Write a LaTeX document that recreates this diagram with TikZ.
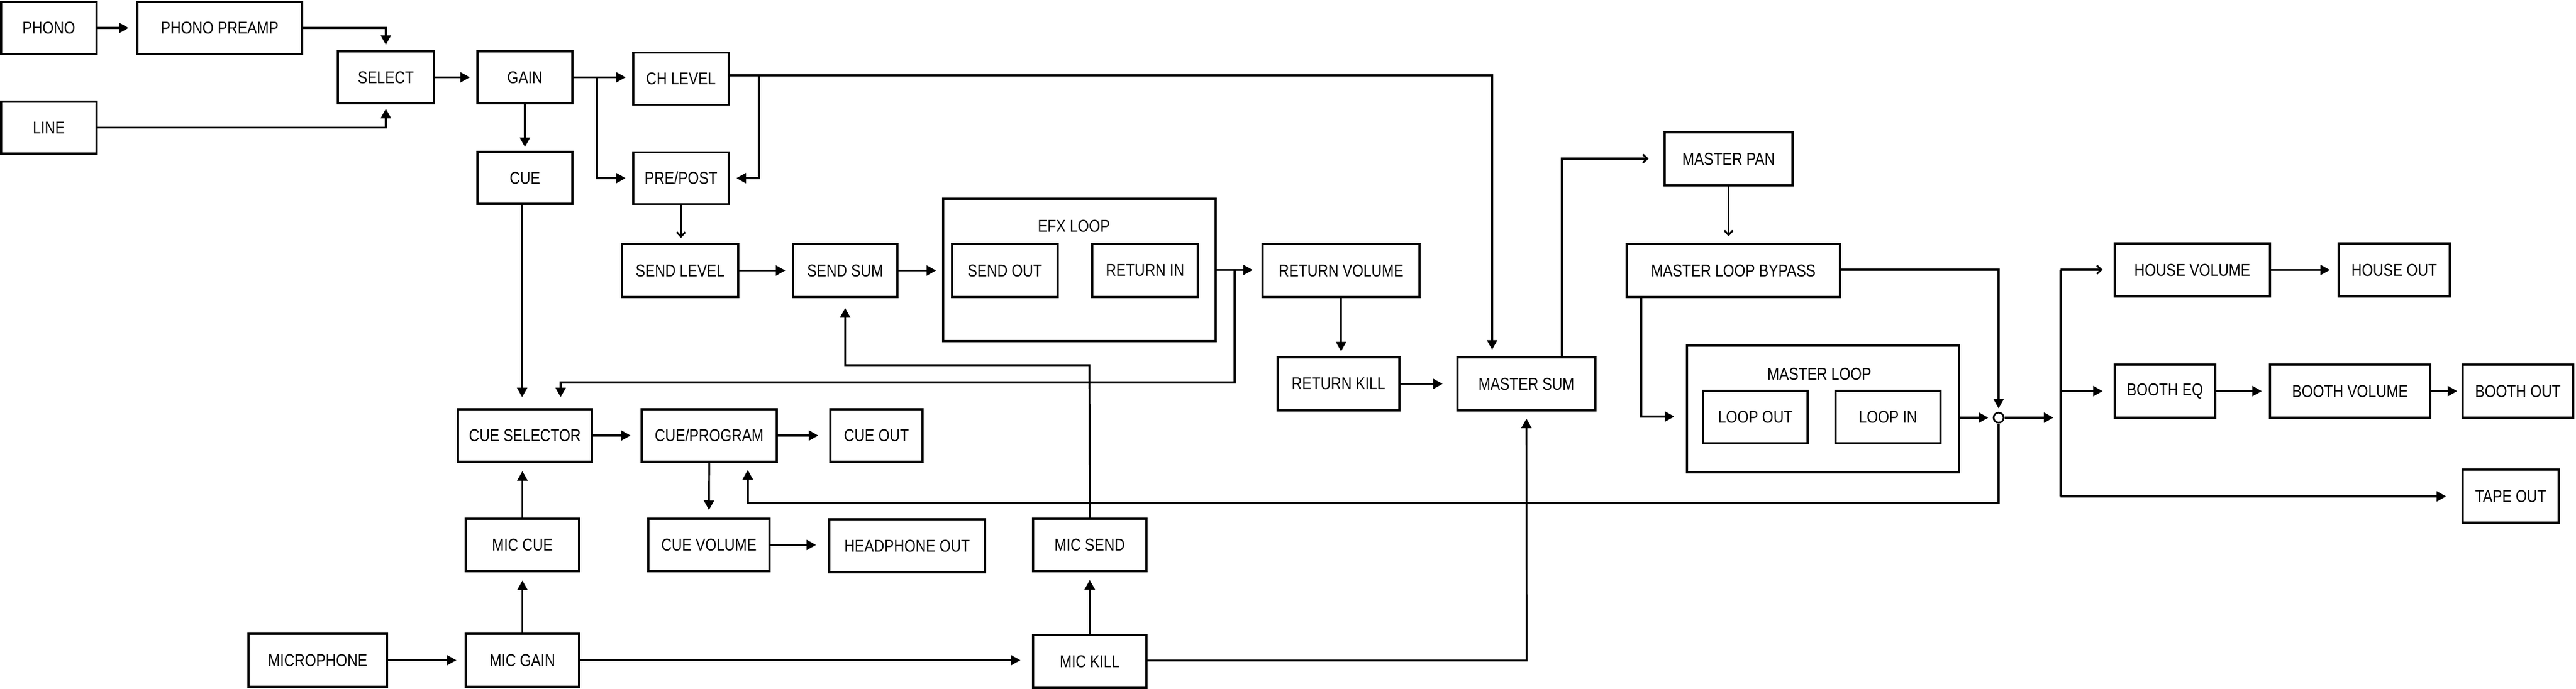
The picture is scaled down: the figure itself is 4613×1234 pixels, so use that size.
\documentclass[tikz,border=0pt]{standalone}
\usepackage{fontspec}
\setmainfont{Liberation Sans}[FakeStretch=0.84]
\usetikzlibrary{arrows.meta}
\begin{document}
\begin{tikzpicture}[x=1pt,y=-1pt,
  box/.style={draw, line width=3.5pt, inner sep=0pt, font=\fontsize{30.7}{36}\selectfont},
  lbl/.style={inner sep=0pt, font=\fontsize{30.7}{36}\selectfont},
  wire/.style={line width=3.2pt},
  arr/.style={line width=3.2pt, -{Triangle[length=17pt,width=18pt]}, shorten >=#1},
  arr/.default=12pt,
  oarr/.style={line width=3.2pt, -{Straight Barb[length=8pt,width=15pt]}, shorten >=#1},
  oarr/.default=12pt]
\useasboundingbox (0,0) rectangle (4613,1234);
% boxes
\node[box, minimum width=171pt, minimum height=93pt] (phono) at (87.5,50) {PHONO};
\node[box, minimum width=295pt, minimum height=93pt] (preamp) at (393.5,50) {PHONO PREAMP};
\node[box, minimum width=172pt, minimum height=93pt] (select) at (691,138.5) {SELECT};
\node[box, minimum width=171pt, minimum height=93pt] (line) at (87.5,228.5) {LINE};
\node[box, minimum width=170pt, minimum height=93pt] (gain) at (940,138.5) {GAIN};
\node[box, minimum width=171pt, minimum height=93pt] (chlevel) at (1219.5,141) {CH LEVEL};
\node[box, minimum width=170pt, minimum height=93pt] (cue) at (940,318.5) {CUE};
\node[box, minimum width=171pt, minimum height=93pt] (prepost) at (1219.5,319) {PRE/POST};
\node[box, minimum width=208pt, minimum height=95pt] (sendlevel) at (1218,484.5) {SEND LEVEL};
\node[box, minimum width=187pt, minimum height=95pt] (sendsum) at (1513.5,484.5) {SEND SUM};
\node[box, minimum width=488pt, minimum height=255pt] (efx) at (1933,483.5) {};
\node[lbl] (efxlbl) at (1923,405) {EFX LOOP};
\node[box, minimum width=189pt, minimum height=95pt] (sendout) at (1799.5,484.5) {SEND OUT};
\node[box, minimum width=189pt, minimum height=95pt] (returnin) at (2050.5,484.5) {RETURN IN};
\node[box, minimum width=281pt, minimum height=95pt] (returnvol) at (2401.5,484.5) {RETURN VOLUME};
\node[box, minimum width=218pt, minimum height=95pt] (returnkill) at (2397,687.5) {RETURN KILL};
\node[box, minimum width=247pt, minimum height=95pt] (mastersum) at (2733.5,687.5) {MASTER SUM};
\node[box, minimum width=229pt, minimum height=95pt] (masterpan) at (3095.5,284.5) {MASTER PAN};
\node[box, minimum width=382pt, minimum height=95pt] (mlb) at (3104,484.5) {MASTER LOOP BYPASS};
\node[box, minimum width=487pt, minimum height=227pt] (mloop) at (3264.5,732.5) {};
\node[lbl] (mlooplbl) at (3258,670) {MASTER LOOP};
\node[box, minimum width=187pt, minimum height=94pt] (loopout) at (3143.5,747) {LOOP OUT};
\node[box, minimum width=188pt, minimum height=94pt] (loopin) at (3381,747) {LOOP IN};
\node[box, minimum width=240pt, minimum height=94pt] (cuesel) at (940,780) {CUE SELECTOR};
\node[box, minimum width=242pt, minimum height=94pt] (cueprog) at (1270,780) {CUE/PROGRAM};
\node[box, minimum width=165pt, minimum height=94pt] (cueout) at (1569.5,780) {CUE OUT};
\node[box, minimum width=203pt, minimum height=94pt] (miccue) at (935.5,976) {MIC CUE};
\node[box, minimum width=217pt, minimum height=94pt] (cuevol) at (1269.5,976) {CUE VOLUME};
\node[box, minimum width=279pt, minimum height=95pt] (headout) at (1624.5,977.5) {HEADPHONE OUT};
\node[box, minimum width=203pt, minimum height=94pt] (micsend) at (1951.5,976) {MIC SEND};
\node[box, minimum width=248pt, minimum height=95pt] (microphone) at (569,1182.5) {MICROPHONE};
\node[box, minimum width=203pt, minimum height=95pt] (micgain) at (935.5,1182.5) {MIC GAIN};
\node[box, minimum width=203pt, minimum height=95pt] (mickill) at (1951.5,1184.5) {MIC KILL};
\node[box, minimum width=278pt, minimum height=95pt] (housevol) at (3926,483.5) {HOUSE VOLUME};
\node[box, minimum width=199pt, minimum height=95pt] (houseout) at (4287.5,483.5) {HOUSE OUT};
\node[box, minimum width=180pt, minimum height=95pt] (boothEQ) at (3877,700.5) {BOOTH EQ};
\node[box, minimum width=287pt, minimum height=95pt] (boothvol) at (4208.5,700.5) {BOOTH VOLUME};
\node[box, minimum width=198pt, minimum height=95pt] (boothout) at (4509,700.5) {BOOTH OUT};
\node[box, minimum width=172pt, minimum height=95pt] (tapeout) at (4496,888.5) {TAPE OUT};
\node[circle, draw, line width=3pt, minimum size=18pt, inner sep=0pt] (jn) at (3579,748) {};
% coordinates
\coordinate (b1) at (1069,138.5);
\coordinate (chx) at (2672,135);
\coordinate (b2) at (1359,135);
\coordinate (b3) at (2211,484);
\coordinate (c3) at (1004,685);
\coordinate (c4) at (1951,654);
\coordinate (c5) at (2797,284);
\coordinate (c6) at (3579,483);
\coordinate (c7) at (2939,746);
\coordinate (d0) at (3690,748);
\coordinate (dtop) at (3690,483);
\coordinate (dbot) at (3690,889);
\coordinate (c8) at (3579,901);
\coordinate (c9) at (1339,901);
\coordinate (c10) at (2734,1183);
\coordinate (c11) at (935,0);
% connectors
\draw[arr=14pt] (phono.east) -- (preamp.west);
\draw[arr=10pt] (preamp.east) -| (select.north);
\draw[arr=8pt] (line.east) -| (select.south);
\draw[arr=12pt] (select.east) -- (gain.west);
\draw[arr=12pt] (gain.east) -- (gain.east -| chlevel.west);
\draw[arr=12pt] (b1) |- (prepost.west);
\draw[arr=7pt] (gain.south) -- (cue.north);
\draw[arr=12pt] (chlevel.east |- chx) -- (chx) -- (chx |- mastersum.north);
\draw[arr=12pt] (b2) |- (prepost.east);
\draw[oarr=9pt] (prepost.south) -- (prepost.south |- sendlevel.north);
\draw[arr=12pt] (sendlevel.east) -- (sendsum.west);
\draw[arr=11pt] (sendsum.east) -- (sendsum.east -| efx.west);
\draw[arr=16pt] (efx.east) -- (efx.east -| returnvol.west);
\draw[arr=20pt] (b3) |- (c3) -- (c3 |- cuesel.north);
\draw[arr=18pt] (micsend.north) -- (c4) -| (sendsum.south);
\draw[arr=9pt] (returnvol.south) -- (returnvol.south |- returnkill.north);
\draw[arr=25pt] (returnkill.east) -- (mastersum.west);
\draw[oarr=27pt] (c5 |- mastersum.north) -- (c5) -- (c5 -| masterpan.west);
\draw[oarr=12pt] (masterpan.south) -- (masterpan.south |- mlb.north);
\draw[arr=6pt] (mlb.east |- c6) -- (c6) -- (jn.north);
\draw[arr=21pt] (c7 |- mlb.south) -- (c7) -- (c7 -| mloop.west);
\draw[arr=8pt] (mloop.east |- jn) -- (jn.west);
\draw[arr=13pt] (jn.east) -- (d0);
\draw[wire] (dtop) -- (dbot);
\draw[oarr=20pt] (dtop) -- (dtop -| housevol.west);
\draw[arr=20pt] (dtop |- boothEQ) -- (boothEQ.west);
\draw[arr=28pt] (dbot) -- (dbot -| tapeout.west);
\draw[arr=14pt] (housevol.east) -- (houseout.west);
\draw[arr=13pt] (boothEQ.east) -- (boothvol.west);
\draw[arr=8pt] (boothvol.east) -- (boothout.west);
\draw[arr=13pt] (jn.south) -- (c8) -- (c9) -- (c9 |- cueprog.south);
\draw[arr=18pt] (cuesel.east) -- (cueprog.west);
\draw[arr=20pt] (cueprog.east) -- (cueout.west);
\draw[arr=14pt] (cueprog.south) -- (cuevol.north);
\draw[arr=22pt] (cuevol.east) -- (cuevol.east -| headout.west);
\draw[arr=20pt] (c11 |- cue.south) -- (c11 |- cuesel.north);
\draw[arr=15pt] (miccue.north) -- (miccue.north |- cuesel.south);
\draw[arr=15pt] (micgain.north) -- (miccue.south);
\draw[arr=15pt] (microphone.east) -- (micgain.west);
\draw[arr=21pt] (micgain.east) -- (micgain.east -| mickill.west);
\draw[arr=14pt] (mickill.north) -- (mickill.north |- micsend.south);
\draw[arr=13pt] (mickill.east |- c10) -- (c10) -- (mastersum.south);
\end{tikzpicture}
\end{document}
